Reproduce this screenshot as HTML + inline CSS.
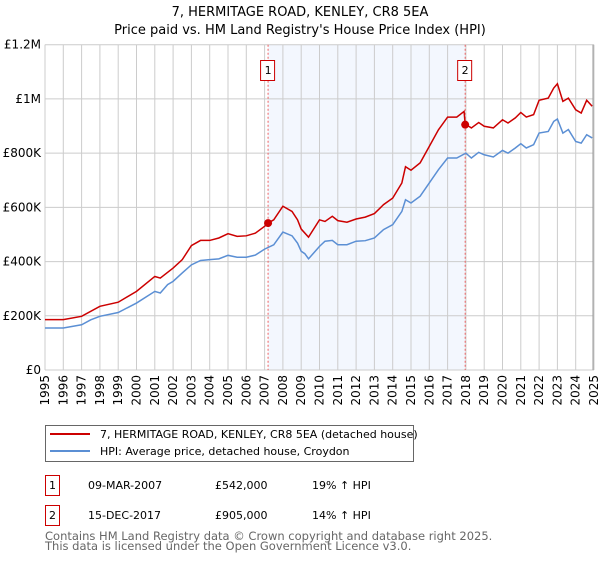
<!DOCTYPE html>
<html><head><meta charset="utf-8"><style>
body{margin:0;background:#fff;font-family:"Liberation Sans","DejaVu Sans",sans-serif;}
svg text{font-family:"DejaVu Sans","Liberation Sans",sans-serif;}
</style></head><body>
<svg id="c" width="600" height="560" xmlns="http://www.w3.org/2000/svg">
<text x="300" y="16" text-anchor="middle" font-size="13">7, HERMITAGE ROAD, KENLEY, CR8 5EA</text>
<text x="300" y="34" text-anchor="middle" font-size="13">Price paid vs. HM Land Registry's House Price Index (HPI)</text>
<g id="plot"></g>
<g>
<rect x="45.5" y="425.5" width="368" height="36" fill="#fff" stroke="#666"/>
<line x1="50" y1="434" x2="90" y2="434" stroke="#cc0000" stroke-width="2"/>
<text x="100" y="438" font-size="11">7, HERMITAGE ROAD, KENLEY, CR8 5EA (detached house)</text>
<line x1="50" y1="451" x2="90" y2="451" stroke="#5b8fd4" stroke-width="2"/>
<text x="100" y="455" font-size="11">HPI: Average price, detached house, Croydon</text>
</g>
<g font-size="11">
<rect x="45.5" y="475.5" width="14" height="20" fill="#fff" stroke="#cc0000"/>
<text x="52.5" y="489" text-anchor="middle">1</text>
<text x="88" y="489">09-MAR-2007</text><text x="215" y="489">£542,000</text><text x="312" y="489">19% ↑ HPI</text>
<rect x="45.5" y="505.5" width="14" height="20" fill="#fff" stroke="#cc0000"/>
<text x="52.5" y="519" text-anchor="middle">2</text>
<text x="88" y="519">15-DEC-2017</text><text x="215" y="519">£905,000</text><text x="312" y="519">14% ↑ HPI</text>
</g>
<g fill="#666" font-size="11.5">
<text x="45" y="540">Contains HM Land Registry data © Crown copyright and database right 2025.</text>
<text x="45" y="550">This data is licensed under the Open Government Licence v3.0.</text>
</g>
</svg>
<script>
const hpiYears=[1995,1996,1997,1997.5,1998,1999,2000,2001,2001.3,2001.7,2002,2002.5,2003,2003.5,2004,2004.5,2005,2005.5,2006,2006.5,2007,2007.5,2008,2008.5,2008.8,2009,2009.2,2009.4,2010,2010.3,2010.7,2011,2011.5,2012,2012.5,2013,2013.5,2014,2014.5,2014.7,2015,2015.5,2016,2016.5,2017,2017.5,2018,2018.3,2018.7,2019,2019.5,2020,2020.3,2020.7,2021,2021.3,2021.7,2022,2022.5,2022.8,2023,2023.3,2023.6,2024,2024.3,2024.6,2024.9];
const hpiValues=[155,155,167,185,198,212,247,290,284,315,327,358,388,404,407,410,423,416,416,424,446,462,509,495,468,438,429,410,456,475,478,462,462,475,477,487,518,536,585,628,616,641,690,739,782,782,800,782,803,794,786,810,800,819,835,819,831,874,880,917,926,874,887,843,837,868,856];
const propYears=[1995,1996,1997,1998,1999,2000,2001,2001.3,2002,2002.5,2003,2003.5,2004,2004.5,2005,2005.5,2006,2006.5,2007,2007.19,2007.5,2008,2008.5,2008.8,2009,2009.4,2010,2010.3,2010.7,2011,2011.5,2012,2012.5,2013,2013.5,2014,2014.5,2014.7,2015,2015.5,2016,2016.5,2017,2017.5,2017.9,2017.96,2018.3,2018.7,2019,2019.5,2020,2020.3,2020.7,2021,2021.3,2021.7,2022,2022.5,2022.8,2023,2023.3,2023.6,2024,2024.3,2024.6,2024.9];
const propValues=[186,186,198,235,250,290,345,339,376,407,459,478,478,487,503,493,495,505,530,542,554,604,585,554,520,490,554,548,567,551,545,557,564,577,610,634,690,750,737,764,825,886,933,933,954,907,893,913,899,893,923,911,930,950,933,942,995,1003,1040,1056,991,1003,960,948,995,973];
const saleYears=[2007.19,2017.96];
const saleValues=[542,905];
const saleLabels=["1","2"];
const yTicks=[0,200,400,600,800,1000,1200];
const yTickLabels=["£0","£200K","£400K","£600K","£800K","£1M","£1.2M"];
const xTicks=[1995,1996,1997,1998,1999,2000,2001,2002,2003,2004,2005,2006,2007,2008,2009,2010,2011,2012,2013,2014,2015,2016,2017,2018,2019,2020,2021,2022,2023,2024,2025];

const X0=45,X1=594,Y0=370,Y1=44.7;
const sx=v=>X0+(v-1995)/30*(X1-X0);
const sy=v=>Y0-v/1200*(Y0-Y1);
const NS="http://www.w3.org/2000/svg";
const g=document.getElementById('plot');
function mk(t,a){const e=document.createElementNS(NS,t);for(const k in a)e.setAttribute(k,a[k]);g.appendChild(e);return e;}

const sh=mk('rect',{x:sx(saleYears[0]),y:Y1,width:sx(saleYears[1])-sx(saleYears[0]),height:Y0-Y1,fill:'#eef3fd',opacity:0.7});


xTicks.forEach(t=>{const l=mk('line',{x1:sx(t),x2:sx(t),y1:Y1,y2:Y0,stroke:'#ccc','stroke-width':1});


const tx=mk('text',{x:0,y:0,'font-size':12,'text-anchor':'end',transform:`translate(${sx(t)+4},${Y0+5}) rotate(-90)`});tx.textContent=t;

});
yTicks.forEach((t,i)=>{const l=mk('line',{x1:X0,x2:X1,y1:sy(t),y2:sy(t),stroke:'#ccc','stroke-width':1});


const tx=mk('text',{x:X0-4,y:sy(t)+4,'font-size':12,'text-anchor':'end'});tx.textContent=yTickLabels[i];

});
const ax=mk('line',{x1:X0,x2:X0,y1:Y1,y2:Y0,stroke:'#ccc'});


const ed=mk('line',{x1:X1-1,x2:X1-1,y1:Y1,y2:Y0,stroke:'#999'});



saleYears.forEach((yr,i)=>{const l=mk('line',{x1:sx(yr),x2:sx(yr),y1:Y1,y2:Y0,stroke:'#f06060','stroke-dasharray':'2,2'});


const r=mk('rect',{x:sx(yr)-7.5,y:60.5,width:14,height:20,fill:'#fff',stroke:'#cc0000'});


const t=mk('text',{x:sx(yr),y:74,'font-size':11,'text-anchor':'middle'});t.textContent=saleLabels[i];

});

const hp=mk('polyline',{points:hpiYears.map((y,i)=>sx(y)+','+sy(hpiValues[i])).join(' '),fill:'none',stroke:'#5b8fd4','stroke-width':1.5});


const pp=mk('polyline',{points:propYears.map((y,i)=>sx(y)+','+sy(propValues[i])).join(' '),fill:'none',stroke:'#cc0000','stroke-width':1.5});


saleYears.forEach((yr,i)=>{const c=mk('circle',{cx:sx(yr),cy:sy(saleValues[i]),r:4,fill:'#cc0000'});

});
</script>
</body></html>
